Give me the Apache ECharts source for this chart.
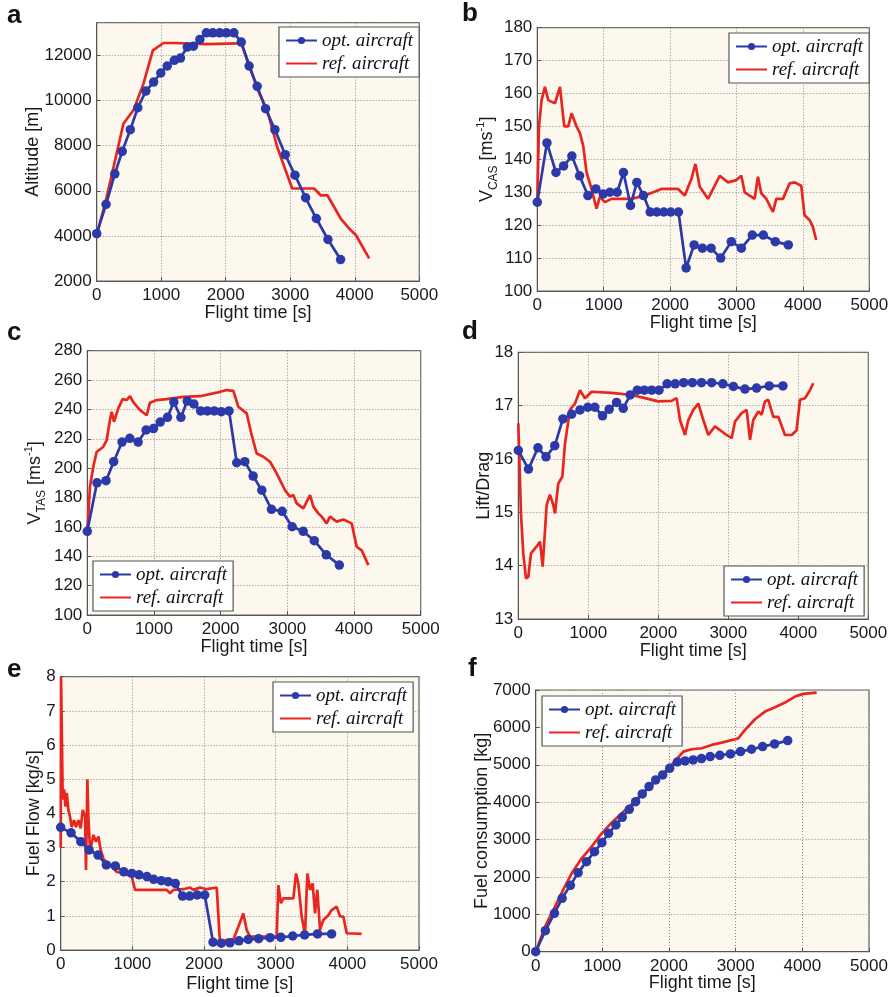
<!DOCTYPE html>
<html><head><meta charset="utf-8">
<script src="https://cdn.jsdelivr.net/npm/echarts@6/dist/echarts.min.js"></script>
<style>html,body{margin:0;padding:0;background:#fff}#c{width:895px;height:997px}</style>
</head><body><div id="c"></div>
<script>
// ---------- data ----------
const X_TICKS = [0, 1000, 2000, 3000, 4000, 5000];
const OPT_T = [0,145,281,396,521,637,762,882,993,1093,1203,1298,1404,1499,1599,1700,1800,1905,2010,2126,2241,2362,2487,2617,2762,2922,3073,3238,3404,3584,3780];

const ALT_OPT = [4100,5400,6750,7750,8710,9680,10420,10820,11220,11530,11780,11880,12370,12410,12710,13000,13000,13000,13000,13000,12590,11530,10630,9640,8710,7600,6690,5690,4770,3840,2950];
const ALT_REF_T = [0,145,285,415,570,725,870,1036,1200,1700,2200,2238,2357,2487,2642,2798,2927,3031,3368,3472,3575,3782,3912,4016,4223];
const ALT_REF = [4050,5600,7350,8980,9570,10750,12220,12550,12550,12500,12530,12550,11630,10530,9570,7940,6910,6100,6100,5800,5800,4770,4330,4040,3000];

const CAS_OPT = [127,145,136,138,141,135,129,131,129.5,130,130,136,126,133,129,124,124,124,124,124,107,114,113,113,110,115,113,117,117,115,114];
const CAS_REF_T = [0,25,65,115,165,266,341,406,466,516,591,642,692,742,817,892,942,1018,1118,1419,1619,1870,2120,2221,2320,2381,2446,2571,2747,2872,2997,3073,3123,3273,3323,3373,3449,3549,3599,3699,3800,3875,3975,4025,4100,4150,4200];
const CAS_REF = [127.6,150,158,162,158,157,162,150,150,154,150,148,144,136,131,125,128.6,127,128,128,129,131,131,129,134,138.6,131.7,128,135,133,133.7,135,130,128,134.7,129.7,128,124,128,128,132.7,133,132,123,121.6,119.5,115.5];

const TAS_OPT = [157,190,191.5,204.4,217.8,220.3,217.8,226,227,231.4,234.6,245,234.6,245.7,243.7,239,239,239,238.5,239,203.7,204.4,194.6,185,172,170.6,160.1,157,150.6,141,134];
const TAS_REF_T = [0,40,90,140,240,290,340,365,400,465,530,590,640,690,790,890,940,1040,1190,1440,1690,1940,2090,2190,2265,2390,2465,2540,2640,2740,2840,2965,3040,3090,3140,3240,3340,3390,3465,3515,3590,3640,3740,3840,3965,4040,4115,4215];
const TAS_REF = [156.5,187.4,201,211,214.6,219,232.8,238.4,231.6,240.7,247,246.4,249,245,239.6,236,244.6,246.4,247,248.6,249,251.4,253.2,252.7,241.8,237.3,222.6,210,207.8,204.4,196.5,185,180.6,181.7,176,172.6,181.7,173.8,169.2,167,162.4,167,163.6,165,162.4,146.5,144,134];

const LD_OPT = [16.16,15.81,16.21,16.04,16.25,16.75,16.84,16.92,16.97,16.97,16.81,16.93,17.06,16.95,17.2,17.29,17.29,17.29,17.29,17.41,17.41,17.43,17.43,17.43,17.43,17.41,17.36,17.31,17.33,17.37,17.37];
const LD_REF_T = [0,38,71,110,143,181,262,310,348,371,405,452,500,524,571,629,667,738,810,881,952,1048,1333,1619,1810,2000,2190,2262,2310,2381,2429,2500,2571,2643,2714,2810,2881,2976,3048,3095,3190,3262,3310,3357,3429,3476,3524,3571,3643,3714,3810,3905,3976,4024,4095,4167,4214];
const LD_REF = [16.67,14.98,14.23,13.76,13.79,14.23,14.36,14.45,13.98,13.95,15.14,15.33,15.14,14.98,15.54,15.67,16.29,16.92,17.04,17.29,17.14,17.26,17.24,17.2,17.14,17.08,17.09,17.14,16.73,16.45,16.73,16.92,17.04,16.73,16.45,16.61,16.54,16.45,16.39,16.7,16.86,16.92,16.36,16.73,16.89,16.83,17.08,17.11,16.79,16.79,16.45,16.45,16.54,17.11,17.14,17.29,17.42];

const FF_OPT = [3.59,3.43,3.17,2.93,2.78,2.49,2.46,2.29,2.24,2.2,2.15,2.07,2.03,2.0,1.95,1.58,1.58,1.61,1.61,0.23,0.2,0.21,0.27,0.31,0.33,0.36,0.37,0.41,0.44,0.47,0.47];
const FF_REF_T = [0,5,19,28,47,65,84,107,130,153,186,214,247,279,307,340,353,372,386,409,433,456,493,526,558,595,642,712,781,874,991,1037,1107,1479,1526,1572,1712,1805,1851,1944,2037,2177,2223,2316,2409,2479,2549,2595,2642,2874,3014,3037,3074,3107,3247,3284,3316,3363,3409,3442,3479,3516,3549,3581,3619,3665,3735,3781,3851,3898,3944,3991,4200];
const FF_REF = [3.0,8.0,5.85,4.4,4.7,4.2,4.6,4.1,3.9,3.6,3.8,3.6,3.8,3.56,4.1,3.9,2.34,5.0,3.9,2.93,3.12,3.37,3.17,3.32,2.93,2.68,2.54,2.44,2.29,2.24,2.15,1.76,1.76,1.76,1.66,1.76,1.78,1.83,1.76,1.83,1.78,1.83,0.2,0.3,0.31,0.68,1.07,0.59,0.39,0.39,0.39,1.9,1.37,1.51,1.51,2.24,1.95,0.98,0.44,2.24,1.76,1.95,1.07,1.76,0.59,0.88,1.02,1.17,1.27,0.98,0.98,0.49,0.47];

const FC_OPT = [0,562,1026,1427,1775,2114,2408,2676,2917,3167,3390,3595,3809,4014,4219,4416,4594,4728,4906,5076,5103,5129,5165,5218,5254,5290,5352,5415,5486,5558,5647];
const FC_REF_T = [0,140,290,415,540,690,840,990,1140,1290,1440,1590,1740,1890,2040,2140,2215,2340,2490,2640,2790,2990,3040,3140,3290,3440,3590,3740,3890,4015,4215];
const FC_REF = [0,669,1204,1668,2096,2498,2810,3167,3452,3702,3943,4219,4460,4728,4996,5201,5352,5415,5442,5531,5593,5682,5709,5932,6218,6423,6539,6664,6824,6896,6931];

const SERIES_NAMES = ['opt. aircraft', 'ref. aircraft'];
const PANEL_LETTERS = ['a', 'b', 'c', 'd', 'e', 'f'];
const X_TITLE = 'Flight time [s]';
const Y_TITLES = [
  'Altitude [m]',
  '{n|V}{s|CAS}{n| [ms}{p|-1}{n|]}',
  '{n|V}{s|TAS}{n| [ms}{p|-1}{n|]}',
  'Lift/Drag',
  'Fuel Flow [kg/s]',
  'Fuel consumption [kg]'
];
const Y_RANGES = [
  [2000, 13450, 2000],
  [100, 180, 10],
  [100, 280, 20],
  [13, 18, 1],
  [0, 8, 1],
  [0, 7000, 1000]
];
const OPT_VALUES = [ALT_OPT, CAS_OPT, TAS_OPT, LD_OPT, FF_OPT, FC_OPT];
const REF_TIMES = [ALT_REF_T, CAS_REF_T, TAS_REF_T, LD_REF_T, FF_REF_T, FC_REF_T];
const REF_VALUES = [ALT_REF, CAS_REF, TAS_REF, LD_REF, FF_REF, FC_REF];

// ---------- layout / style ----------
const BLUE = '#2b3aa8', RED = '#e8261f';
const FONT = 'Liberation Sans, Arial, sans-serif';
const LAYOUT = [
  {grid:{left:96.7, top:22.7, width:322.6, height:258.3}, nameGap:55, xGap:23, legend:{left:279, top:27}, letter:[7,16]},
  {grid:{left:537.3, top:27.7, width:332, height:263.3}, nameGap:38, xGap:23, legend:{left:729, top:33}, letter:[462,14]},
  {grid:{left:87.3, top:350.7, width:333.4, height:264.3}, nameGap:40, xGap:23, legend:{left:93, top:561}, letter:[7,333]},
  {grid:{left:518.3, top:352.3, width:350, height:266.7}, nameGap:25, xGap:23, legend:{left:724, top:566}, letter:[462,332]},
  {grid:{left:60.7, top:676.7, width:358.3, height:273.3}, nameGap:18, xGap:25, legend:{left:273, top:682}, letter:[7,670]},
  {grid:{left:535.7, top:690, width:333.3, height:261.7}, nameGap:45, xGap:22, legend:{left:542, top:696}, letter:[468,669]}
];

function pairs(xs, ys) { return xs.map((x, i) => [x, ys[i]]); }
function plain(v) { return String(v); }

const grids = [], xAxes = [], yAxes = [], series = [], legends = [], graphics = [];
const axisCommon = {
  axisLine: {show: true, lineStyle: {color: '#555', width: 1}},
  axisTick: {show: true, inside: true, length: 4, lineStyle: {color: '#555'}},
  splitLine: {show: true, lineStyle: {color: '#8a8a8a', type: [1, 2], width: 1}},
  axisLabel: {fontFamily: FONT, fontSize: 17, color: '#1a1a1a', formatter: plain}
};
LAYOUT.forEach((L, i) => {
  grids.push(Object.assign({show: true, backgroundColor: '#fcf8ee', borderColor: '#666', borderWidth: 1.2, containLabel: false}, L.grid));
  xAxes.push(Object.assign({}, axisCommon, {
    type: 'value', gridIndex: i, min: X_TICKS[0], max: X_TICKS[X_TICKS.length - 1], interval: X_TICKS[1] - X_TICKS[0],
    axisLabel: Object.assign({}, axisCommon.axisLabel, {margin: 6}),
    name: X_TITLE, nameLocation: 'middle', nameGap: L.xGap, nameMoveOverlap: false,
    nameTextStyle: {fontFamily: FONT, fontSize: 18, color: '#1a1a1a'}
  }));
  const r = Y_RANGES[i];
  yAxes.push(Object.assign({}, axisCommon, {
    type: 'value', gridIndex: i, min: r[0], max: r[1], interval: r[2],
    axisLabel: Object.assign({}, axisCommon.axisLabel, {margin: 5, showMaxLabel: (r[1] - r[0]) % r[2] === 0}),
    name: Y_TITLES[i], nameLocation: 'middle', nameRotate: 90, nameGap: L.nameGap, nameMoveOverlap: false,
    nameTextStyle: {
      fontFamily: FONT, fontSize: 18, color: '#1a1a1a',
      rich: {
        n: {fontFamily: FONT, fontSize: 18, color: '#1a1a1a', lineHeight: 24, verticalAlign: 'middle'},
        s: {fontFamily: FONT, fontSize: 12, color: '#1a1a1a', lineHeight: 12, verticalAlign: 'bottom'},
        p: {fontFamily: FONT, fontSize: 11, color: '#1a1a1a', lineHeight: 11, verticalAlign: 'top'}
      }
    }
  }));
  series.push({
    name: SERIES_NAMES[0], type: 'line', xAxisIndex: i, yAxisIndex: i,
    data: pairs(OPT_T, OPT_VALUES[i]),
    symbol: 'circle', symbolSize: 9.5, showAllSymbol: true,
    lineStyle: {color: BLUE, width: 2.7}, itemStyle: {color: BLUE},
    animation: false, z: 3
  });
  series.push({
    name: SERIES_NAMES[1], type: 'line', xAxisIndex: i, yAxisIndex: i,
    data: pairs(REF_TIMES[i], REF_VALUES[i]),
    symbol: 'line', showSymbol: false, lineStyle: {color: RED, width: 2.7}, itemStyle: {color: RED},
    animation: false, z: 2
  });
  legends.push({
    data: SERIES_NAMES, orient: 'vertical', left: L.legend.left, top: L.legend.top,
    backgroundColor: '#ffffff', borderColor: '#555', borderWidth: 1.2,
    padding: [4, 6, 4, 6], itemGap: 4, itemWidth: 31, itemHeight: 9,
    selectedMode: false,
    textStyle: {fontFamily: 'Liberation Serif, Times New Roman, serif', fontStyle: 'italic', fontSize: 19, color: '#111'}
  });
  graphics.push({
    type: 'text', left: L.letter[0], top: L.letter[1] - 13,
    style: {text: PANEL_LETTERS[i], font: 'bold 26px ' + FONT, fill: '#111'}
  });
});

const chart = echarts.init(document.getElementById('c'), null, {renderer: 'canvas'});
chart.setOption({
  animation: false,
  backgroundColor: '#ffffff',
  grid: grids, xAxis: xAxes, yAxis: yAxes, series: series, legend: legends, graphic: graphics
});
</script></body></html>
